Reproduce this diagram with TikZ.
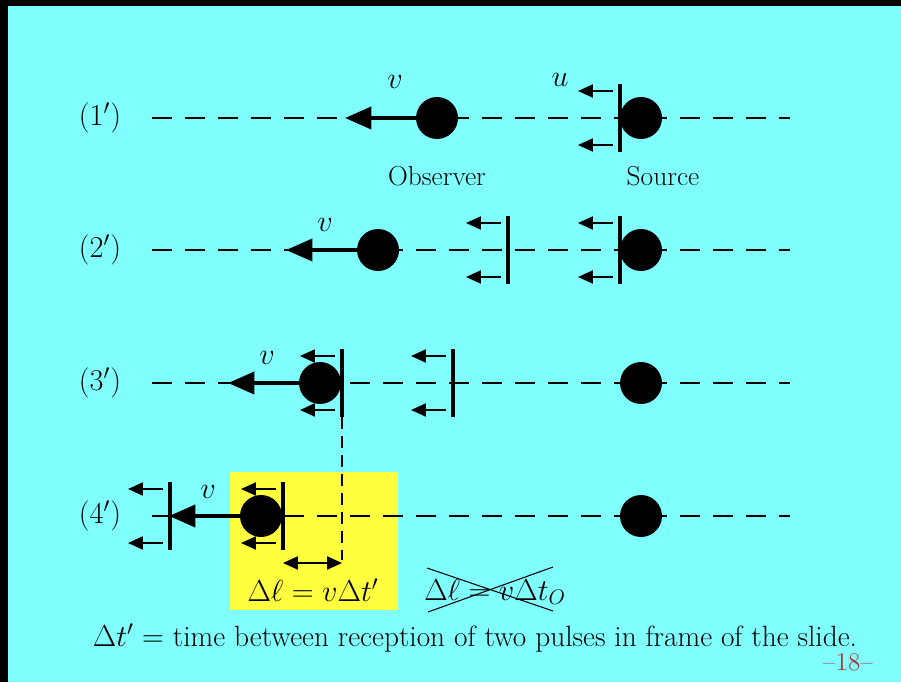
\documentclass[tikz,border=0pt]{standalone}
\usepackage{amsmath}
\usetikzlibrary{positioning, calc, arrows.meta}
\definecolor{slidebg}{RGB}{128, 255, 255}
\definecolor{highlight}{RGB}{255, 255, 64}
\definecolor{pagenum}{RGB}{176, 56, 56}

\begin{document}
\begin{tikzpicture}[x=0.02cm, y=-0.02cm, font=\fontsize{16.4}{19}\selectfont,
    axis/.style={line width=0.85pt, dash pattern=on 0.4cm off 0.26cm},
    ball/.style={circle, fill=black, inner sep=0pt, minimum size=0.84cm},
    vel/.style={line width=2.3pt, -{Triangle[length=15pt, width=12.5pt]}},
    bar/.style={line width=2.3pt},
    wave/.style={line width=0.85pt, -{Triangle[length=8.5pt, width=7.5pt]}}]
    % slide background
    \fill[black] (0,0) rectangle (901,682);
    \fill[slidebg] (8,6) rectangle (901,682);
    \useasboundingbox (0,0) rectangle (901,682);
    \fill[highlight] (230,472) rectangle (398,610);

    % Rows and labels
    \foreach \ry/\rl in {118/1, 250/2, 383/3, 516/4} {
        \node (lab\rl) at (100,\ry) {$(\rl')$};
        \coordinate (axl\rl) at (152,\ry);
        \coordinate (axr\rl) at (790,\ry);
        \draw[axis] (axl\rl) -- (axr\rl);
    }

    % Observer moving left
    \foreach \ox/\oy/\vx/\vy [count=\i] in {437/118/395/82, 378/250/325/225, 320/383/267/358, 261/516/208/492} {
        \node[ball] (obs\i) at (\ox,\oy) {};
        \coordinate (tip\i) at (\ox-92,\oy);
        \draw[vel] (obs\i.center) -- (tip\i);
        \node (v\i) at (\vx,\vy) {$v$};
    }

    % Source
    \foreach \sy [count=\i] in {118, 250, 383, 516} {
        \node[ball] (src\i) at (641,\sy) {};
    }
    \node[below=0.42cm of obs1, font=\fontsize{15.6}{18}\selectfont] (obslab) {Observer};
    \node[below=0.42cm of src1, xshift=0.44cm, font=\fontsize{15.6}{18}\selectfont] (srclab) {Source};
    \node (u) at (560,80) {$u$};

    % Pulses
    \foreach \px/\py [count=\i] in {620/118, 620/250, 508/250, 342/383, 453/383, 283/516, 170/516} {
        \coordinate (bt\i) at (\px,\py-34);
        \coordinate (bb\i) at (\px,\py+34);
        \draw[bar] (bt\i) -- (bb\i);
        \coordinate (ua\i) at (\px-7,\py-27);
        \coordinate (ub\i) at (\px-42,\py-27);
        \coordinate (la\i) at (\px-7,\py+27);
        \coordinate (lb\i) at (\px-42,\py+27);
        \draw[wave] (ua\i) -- (ub\i);
        \draw[wave] (la\i) -- (lb\i);
    }

    % Distance between pulses
    \coordinate (drop) at (342,560);
    \draw[line width=0.85pt, dash pattern=on 0.24cm off 0.14cm] (bb4) -- (drop);
    \coordinate (dl) at (283,563);
    \coordinate (dr) at (342,563);
    \draw[line width=0.85pt, {Triangle[length=8.5pt, width=7.5pt]}-{Triangle[length=8.5pt, width=7.5pt]}] (dl) -- (dr);
    \node (dlen) at (313,590) {$\Delta\ell = v\Delta t'$};
    \node (wrong) at (495,592) {$\Delta\ell = v\Delta t_O$};
    \coordinate (xa) at (427,568);
    \coordinate (xb) at (553,611);
    \coordinate (xc) at (428,612);
    \coordinate (xd) at (553,567);
    \draw[line width=0.6pt] (xa) -- (xb);
    \draw[line width=0.6pt] (xc) -- (xd);

    % Caption
    \node[font=\fontsize{16.7}{20}\selectfont] (caption) at (475,638) {$\Delta t' =$ time between reception of two pulses in frame of the slide.};
    \node[text=pagenum, font=\fontsize{14.4}{17}\selectfont] (page) at (848,662) {--18--};
\end{tikzpicture}
\end{document}
